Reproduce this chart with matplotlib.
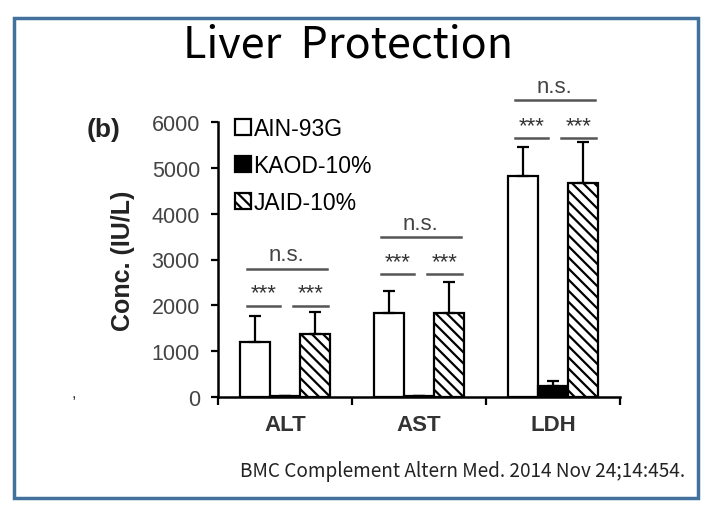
import matplotlib
matplotlib.use("Agg")
from matplotlib import pyplot as plt
from matplotlib.patches import Rectangle
import numpy as np

# data
categories = ["ALT", "AST", "LDH"]
groups = ["AIN-93G", "KAOD-10%", "JAID-10%"]
ain = [1200, 1830, 4830]
ain_err = [570, 480, 630]
kaod = [20, 30, 240]
kaod_err = [0, 0, 110]
jaid = [1375, 1830, 4670]
jaid_err = [480, 680, 900]
star_y = [1990, 2680, 5650]   # *** bracket heights
ns_y = [2800, 3490, 6480]     # n.s. bracket heights

plt.rcParams["font.family"] = ["Liberation Sans", "DejaVu Sans"]
plt.rcParams["hatch.linewidth"] = 1.6

fig = plt.figure(figsize=(7.11, 5.1), dpi=100)
# cornice blu
fig.patches.append(Rectangle((14 / 711, 1 - 499 / 510), 684 / 711, 480 / 510,
                             transform=fig.transFigure, fill=False,
                             edgecolor="#41719C", linewidth=2.5))

fig.text(348 / 711, 1 - 46 / 510, "Liver  Protection", ha="center", va="center",
         fontsize=31, family=["Noto Sans CJK JP", "DejaVu Sans"])
fig.text(685 / 711, 1 - 471 / 510, "BMC Complement Altern Med. 2014 Nov 24;14:454.",
         ha="right", va="center", fontsize=13.7, color="#222222",
         family=["Noto Sans CJK JP", "DejaVu Sans"])
fig.text(72 / 711, 1 - 398 / 510, ",", fontsize=12, color="#333333")
fig.text(104 / 711, 1 - 130 / 510, "(b)", ha="center", va="center",
         fontsize=19, fontweight="bold", color="#222222")

ax = fig.add_axes([218 / 711, 1 - 398 / 510, 402 / 711, 275 / 510])
x = np.arange(len(categories))
w = 0.225
ekw = dict(elinewidth=1.6, capthick=1.6)
ax.bar(x - w, ain, w, yerr=[np.zeros(3), ain_err], color="white", edgecolor="black",
       linewidth=1.6, capsize=4, error_kw=ekw, label=groups[0])
ax.bar(x, kaod, w, yerr=[np.zeros(3), kaod_err], color="black", edgecolor="black",
       linewidth=1.6, capsize=4, error_kw=ekw, label=groups[1])
ax.bar(x + w, jaid, w, yerr=[np.zeros(3), jaid_err], color="white", edgecolor="black",
       hatch="\\\\\\", linewidth=1.6, capsize=4, error_kw=ekw, label=groups[2])

# significativita
lc = "#555555"
for i in range(3):
    ax.plot([i - 0.28, i - 0.04], [star_y[i]] * 2, color=lc, lw=1.8, clip_on=False)
    ax.plot([i + 0.06, i + 0.32], [star_y[i]] * 2, color=lc, lw=1.8, clip_on=False)
    ax.text(i - 0.16, star_y[i] + 50, "***", ha="center", va="bottom", fontsize=16,
            color="#333333")
    ax.text(i + 0.19, star_y[i] + 50, "***", ha="center", va="bottom", fontsize=16,
            color="#333333")
    ax.plot([i - 0.28, i + 0.31], [ns_y[i]] * 2, color=lc, lw=1.8, clip_on=False)
    ax.text(i + 0.01, ns_y[i] + 70, "n.s.", ha="center", va="bottom", fontsize=16,
            color="#444444")

ax.set_xlim(-0.5, 2.5)
ax.set_ylim(0, 6000)
ax.set_yticks(range(0, 6001, 1000))
ax.tick_params(axis="y", labelsize=15.5, labelcolor="#444444", width=1.6, length=5, pad=8)
ax.set_xticks([-0.5, 0.5, 1.5, 2.5])
ax.set_xticklabels([])
ax.tick_params(axis="x", which="major", width=1.6, length=6, direction="out")
ax.set_xticks(x, minor=True)
ax.set_xticklabels(categories, minor=True, fontsize=16, fontweight="bold", color="#333333")
ax.tick_params(axis="x", which="minor", length=0, pad=12)
ax.set_ylabel("Conc. (IU/L)", fontsize=18, fontweight="bold", color="#222222", labelpad=12)

for s in ["top", "right"]:
    ax.spines[s].set_visible(False)
for s in ["left", "bottom"]:
    ax.spines[s].set_linewidth(1.8)

ax.legend(loc="upper left", bbox_to_anchor=(0.02, 1.05), frameon=False, fontsize=16.5,
          handlelength=0.7, handleheight=0.7, handletextpad=0.1, labelspacing=0.6,
          borderaxespad=0)

plt.savefig("out.png", dpi=100)
